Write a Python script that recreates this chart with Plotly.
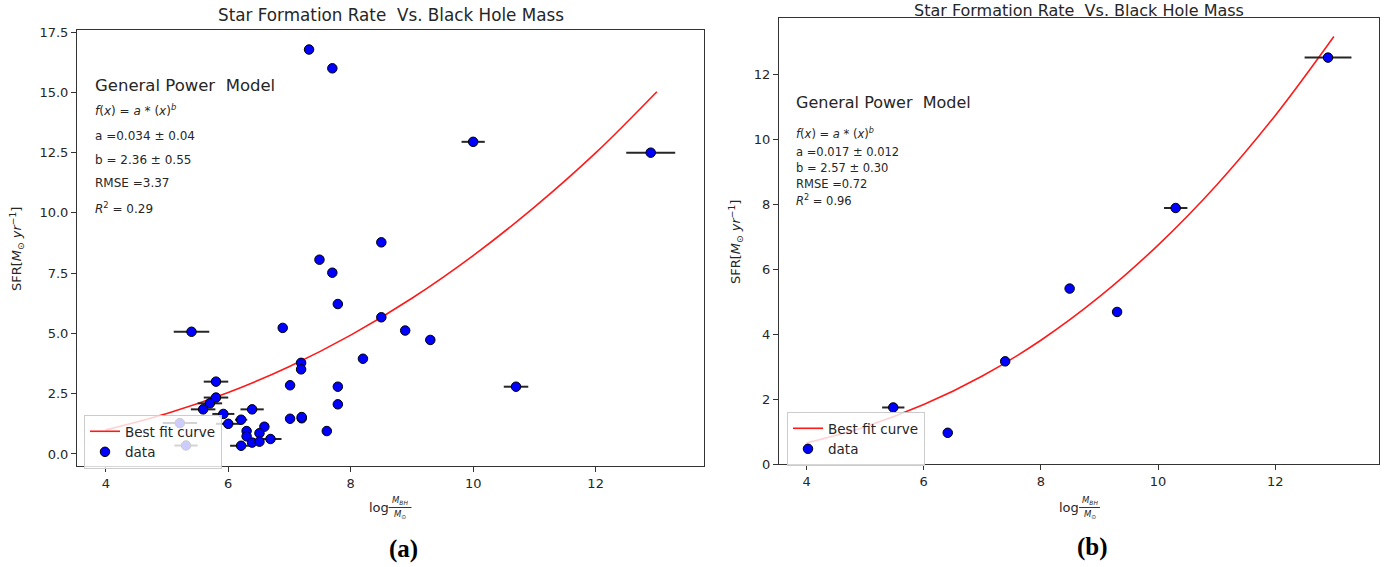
import plotly.graph_objects as go

# ---------------- data: panel (a) ----------------
a_x = [7.32, 7.70, 10.00, 12.90, 8.50, 7.49, 7.70, 7.79, 8.50, 8.89, 9.30, 8.20,
       6.89, 5.40, 7.19, 7.19, 7.01, 7.79, 7.79, 5.80, 5.80, 5.70, 5.59, 6.39,
       5.92, 6.21, 6.00, 7.01, 7.20, 7.20, 7.61, 6.59, 6.30, 6.51, 6.30, 6.69,
       6.39, 6.51, 6.21, 5.21, 5.31, 10.70]
a_y = [16.78, 16.00, 12.95, 12.50, 8.78, 8.06, 7.52, 6.22, 5.67, 5.12, 4.73, 3.95,
       5.23, 5.07, 3.78, 3.51, 2.85, 2.79, 2.06, 3.00, 2.34, 2.10, 1.85, 1.85,
       1.66, 1.42, 1.25, 1.46, 1.48, 1.53, 0.95, 1.13, 0.95, 0.86, 0.73, 0.62,
       0.47, 0.51, 0.34, 1.28, 0.35, 2.79]
a_xerr = [0.08, 0.05, 0.19, 0.40, 0.05, 0.06, 0.05, 0.05, 0.05, 0.06, 0.05, 0.05,
          0.06, 0.29, 0.05, 0.05, 0.05, 0.05, 0.05, 0.20, 0.20, 0.20, 0.20, 0.19,
          0.18, 0.10, 0.20, 0.05, 0.05, 0.05, 0.05, 0.05, 0.05, 0.05, 0.05, 0.18,
          0.05, 0.05, 0.18, 0.28, 0.19, 0.20]
# best-fit curve
a_fit_x = [4, 5, 6, 7, 8, 9, 10, 11, 12, 13]
a_fit_y = [1.00, 1.68, 2.55, 3.63, 4.93, 6.46, 8.23, 10.24, 12.49, 15.03]
a_yticks = [0, 2.5, 5, 7.5, 10, 12.5, 15, 17.5]
a_yticktext = ["0.0", "2.5", "5.0", "7.5", "10.0", "12.5", "15.0", "17.5"]
a_text = ["a =0.034 \u00b1 0.04", "b = 2.36 \u00b1 0.55", "RMSE =3.37", "<i>R</i><sup>2</sup> = 0.29"]

# ---------------- data: panel (b) ----------------
b_x = [5.48, 6.41, 7.39, 8.49, 9.30, 10.30, 12.90]
b_y = [1.74, 0.96, 3.16, 5.40, 4.68, 7.88, 12.51]
b_xerr = [0.19, 0.05, 0.05, 0.05, 0.05, 0.20, 0.40]
b_fit_x = [4, 5, 6, 7, 8, 9, 10, 11, 12, 13]
b_fit_y = [0.65, 1.15, 1.83, 2.71, 3.81, 5.15, 6.74, 8.59, 10.73, 13.16]
b_yticks = [0, 2, 4, 6, 8, 10, 12]
b_yticktext = ["0", "2", "4", "6", "8", "10", "12"]
b_text = ["a =0.017 \u00b1 0.012", "b = 2.57 \u00b1 0.30", "RMSE =0.72", "<i>R</i><sup>2</sup> = 0.96"]

x_ticks = [4, 6, 8, 10, 12]

FONT = "DejaVu Sans"
W, H = 1389, 567
EB = dict(type="data", thickness=2, width=0, color="#262626")
MK = dict(size=9.5, color="#0000ff", line=dict(width=1, color="black"))

fig = go.Figure()
fig.add_trace(go.Scatter(x=a_fit_x, y=a_fit_y, mode="lines", line=dict(color="#ff1a1a", width=1.6, shape="spline"),
                         name="Best fit curve", xaxis="x", yaxis="y", legend="legend"))
fig.add_trace(go.Scatter(x=a_x, y=a_y, mode="markers", marker=MK, error_x=dict(array=a_xerr, **EB),
                         name="data", xaxis="x", yaxis="y", legend="legend"))
fig.add_trace(go.Scatter(x=b_fit_x, y=b_fit_y, mode="lines", line=dict(color="#ff1a1a", width=1.6, shape="spline"),
                         name="Best fit curve", xaxis="x2", yaxis="y2", legend="legend2"))
fig.add_trace(go.Scatter(x=b_x, y=b_y, mode="markers", marker=MK, error_x=dict(array=b_xerr, **EB),
                         name="data", xaxis="x2", yaxis="y2", legend="legend2"))

ax_common = dict(showgrid=False, zeroline=False, showline=True, mirror=True, linecolor="#333",
                 linewidth=1, ticks="outside", ticklen=5, tickcolor="#333", automargin=False,
                 tickfont=dict(family=FONT, size=13, color="#262626"))

def px_x(p):
    return p / W

def px_y(p):
    return 1 - p / H

LEG = dict(xanchor="left", yanchor="top", bgcolor="rgba(255,255,255,0.8)", bordercolor="#cccccc",
           borderwidth=1, font=dict(family=FONT, size=13.5, color="#262626"), tracegroupgap=0, itemwidth=30)

fig.update_layout(
    template="none",
    width=W, height=H, margin=dict(l=0, r=0, t=0, b=0, pad=0), autosize=False,
    paper_bgcolor="white", plot_bgcolor="white",
    font=dict(family=FONT, color="#262626"),
    xaxis=dict(domain=[px_x(77), px_x(704)], range=[3.53, 13.77], tickvals=x_ticks, anchor="y", **ax_common),
    yaxis=dict(domain=[px_y(466), px_y(30)], range=[-0.5, 17.59], tickvals=a_yticks, ticktext=a_yticktext,
               anchor="x", **ax_common),
    xaxis2=dict(domain=[px_x(779), px_x(1379)], range=[3.53, 13.77], tickvals=x_ticks, anchor="y2", **ax_common),
    yaxis2=dict(domain=[px_y(464), px_y(18.3)], range=[0, 13.72], tickvals=b_yticks, ticktext=b_yticktext,
                anchor="x2", **ax_common),
    legend=dict(x=px_x(84), y=px_y(415), **LEG),
    legend2=dict(x=px_x(787), y=px_y(412), **LEG),
    showlegend=True,
)

ann = []
title = "Star Formation Rate  Vs. Black Hole Mass"
ann.append(dict(text=title, x=px_x(390.5), y=px_y(15), xref="paper", yref="paper", showarrow=False,
                xanchor="center", yanchor="middle", font=dict(size=16.8)))
ann.append(dict(text=title, x=px_x(1079), y=px_y(0.5), xref="paper", yref="paper", showarrow=False,
                xanchor="center", yanchor="top", borderpad=0, font=dict(size=16)))

ylab = "SFR[<i>M</i><sub>\u2299</sub> <i>yr</i><sup>\u22121</sup>]"
ann.append(dict(text=ylab, x=px_x(17), y=px_y(249), xref="paper", yref="paper", showarrow=False,
                textangle=-90, xanchor="center", yanchor="middle", font=dict(size=13)))
ann.append(dict(text=ylab, x=px_x(736), y=px_y(242), xref="paper", yref="paper", showarrow=False,
                textangle=-90, xanchor="center", yanchor="middle", font=dict(size=13)))

# x-axis labels: log + fraction M_BH / M_sun
for lx, fx0, fx1 in [(379, 388.5, 411.5), (1069, 1079, 1100)]:
    ann.append(dict(text="log", x=px_x(lx), y=px_y(507), xref="paper", yref="paper", showarrow=False,
                    xanchor="center", yanchor="middle", font=dict(size=13)))
    ann.append(dict(text="<i>M</i><sub><i>BH</i></sub>", x=px_x((fx0 + fx1) / 2), y=px_y(500.5), xref="paper",
                    yref="paper", showarrow=False, xanchor="center", yanchor="middle", font=dict(size=8.5)))
    ann.append(dict(text="<i>M</i><sub>\u2299</sub>", x=px_x((fx0 + fx1) / 2), y=px_y(514), xref="paper",
                    yref="paper", showarrow=False, xanchor="center", yanchor="middle", font=dict(size=8.5)))
    fig.add_shape(type="line", xref="paper", yref="paper", x0=px_x(fx0), x1=px_x(fx1), y0=px_y(507.5),
                  y1=px_y(507.5), line=dict(color="#333", width=1))

# panel labels
ann.append(dict(text="<b>(a)</b>", x=px_x(403), y=px_y(549), xref="paper", yref="paper", showarrow=False,
                xanchor="center", yanchor="middle", font=dict(family="Liberation Serif", size=25, color="black")))
ann.append(dict(text="<b>(b)</b>", x=px_x(1092), y=px_y(547), xref="paper", yref="paper", showarrow=False,
                xanchor="center", yanchor="middle", font=dict(family="Liberation Serif", size=25, color="black")))

# model text blocks
fx = "<i>f</i>(<i>x</i>) = <i>a</i> * (<i>x</i>)<sup><i>b</i></sup>"
a_pos = [0.8716, 0.8165, 0.7576, 0.7018, 0.6484, 0.591]
b_pos = [0.8106, 0.742, 0.7007, 0.6648, 0.6282, 0.5923]
for xr, yr, xpos, pos, lines, big, small in [("x domain", "y domain", 0.026, a_pos, a_text, 16.5, 12),
                                             ("x2 domain", "y2 domain", 0.0245, b_pos, b_text, 16, 11.5)]:
    texts = ["General Power  Model", fx] + lines
    for i, t in enumerate(texts):
        ann.append(dict(text=t, x=xpos, y=pos[i], xref=xr, yref=yr, showarrow=False, xanchor="left",
                        yanchor="middle", font=dict(size=big if i == 0 else small, color="#262626")))

fig.update_layout(annotations=ann)
fig.write_html("out.html", config={"displayModeBar": False},
               post_script="document.body.style.margin='0';")
